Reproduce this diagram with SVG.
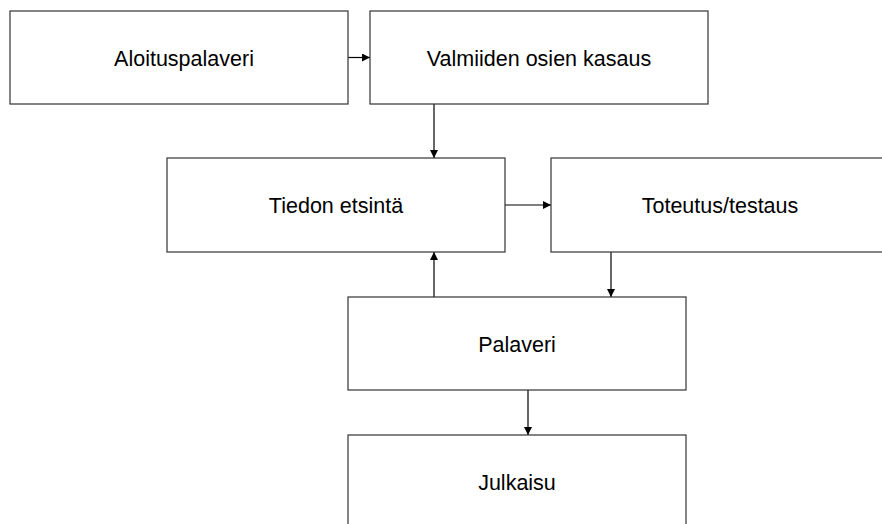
<svg xmlns="http://www.w3.org/2000/svg" width="882" height="524" viewBox="0 0 882 524">
<style>
.box{fill:#fff;stroke:#333;stroke-width:1.2}
.lbl{font-family:"Liberation Sans",Arial,sans-serif;font-size:21.5px;fill:#000;text-anchor:middle}
.con{stroke:#000;stroke-width:1.2;fill:none;marker-end:url(#ah)}
</style>
<defs>
<marker id="ah" viewBox="0 0 10 10" refX="10" refY="5" markerWidth="8" markerHeight="8" markerUnits="userSpaceOnUse" orient="auto">
<path d="M0,0 L10,5 L0,10 z" fill="#000"/>
</marker>
</defs>
<rect width="882" height="524" fill="#fff"/>
<g id="connectors">
<line class="con" x1="348" y1="57.5" x2="370" y2="57.5"/>
<line class="con" x1="434" y1="104" x2="434" y2="158"/>
<line class="con" x1="505" y1="205" x2="551" y2="205"/>
<line class="con" x1="611" y1="252" x2="611" y2="297"/>
<line class="con" x1="434" y1="297" x2="434" y2="252"/>
<line class="con" x1="528" y1="390" x2="528" y2="435"/>
</g>
<g id="n1"><rect class="box" x="10" y="11" width="338" height="93"/><text class="lbl" x="184" y="66">Aloituspalaveri</text></g>
<g id="n2"><rect class="box" x="370" y="11" width="338" height="93"/><text class="lbl" x="539" y="66">Valmiiden osien kasaus</text></g>
<g id="n3"><rect class="box" x="167" y="158" width="338" height="94"/><text class="lbl" x="336" y="213">Tiedon etsintä</text></g>
<g id="n4"><rect class="box" x="551" y="158" width="338" height="94"/><text class="lbl" x="720" y="213">Toteutus/testaus</text></g>
<g id="n5"><rect class="box" x="348" y="297" width="338" height="93"/><text class="lbl" x="517" y="352">Palaveri</text></g>
<g id="n6"><rect class="box" x="348" y="435" width="338" height="93"/><text class="lbl" x="517" y="490">Julkaisu</text></g>
</svg>
